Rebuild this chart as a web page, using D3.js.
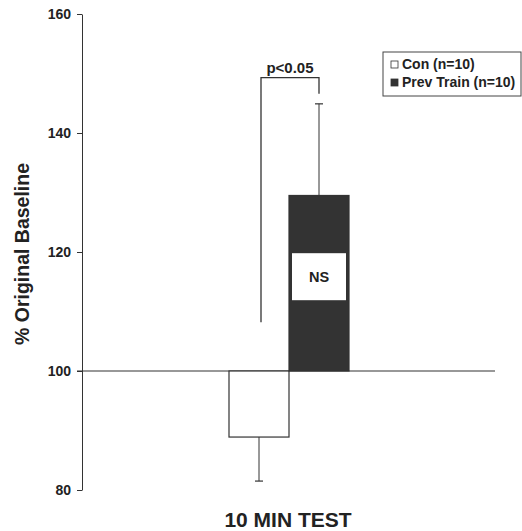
<!DOCTYPE html>
<html>
<head>
<meta charset="utf-8">
<script src="https://cdn.jsdelivr.net/npm/d3@7"></script>
<style>
  body { margin: 0; background: #fff; }
  text { font-family: "Liberation Sans", Arial, sans-serif; font-weight: bold; fill: #222; }
</style>
</head>
<body>
<div id="vis"></div>
<script>
const groups = ["Con (n=10)", "Prev Train (n=10)"];
const means = [88.9, 129.5];
const errors = [7.4, 15.4];
const fills = ["#fff", "#333"];
const yTicks = [80, 100, 120, 140, 160];
const baseline = 100;
// bracket: left arm bottom, right arm bottom, top
const bracket = [108.2, 146.6, 149.3];
const nsBox = [111.9, 119.8];

const width = 522;
const height = 531;
const margin = {left: 82, right: 27, top: 14, bottom: 41};

const svg = d3.select("#vis")
        .append("svg")
        .attr("width", width)
        .attr("height", height);

const yScale = d3.scaleLinear()
        .domain([80, 160])
        .range([height - margin.bottom, margin.top]);

const xScale = d3.scaleBand()
        .domain(groups)
        .range([229, 349])
        .paddingInner(0);

// y axis
const yAxis = d3.axisLeft(yScale)
        .tickValues(yTicks)
        .tickSizeOuter(0)
        .tickSizeInner(5)
        .tickPadding(6);

svg.append("g")
        .attr("transform", "translate(" + margin.left + ",0)")
        .call(yAxis)
        .call(g => g.select(".domain").attr("stroke", "#333"))
        .call(g => g.selectAll(".tick line").attr("stroke", "#333"))
        .call(g => g.selectAll("text").attr("font-size", 14).attr("fill", "#222"));

// baseline
svg.append("line")
        .attr("x1", margin.left - 5)
        .attr("x2", 495)
        .attr("y1", yScale(baseline))
        .attr("y2", yScale(baseline))
        .attr("stroke", "#333")
        .attr("stroke-width", 1.2);

// error bars
groups.forEach((g, i) => {
  let cx = xScale(g) + xScale.bandwidth() / 2;
  let end = means[i] > baseline ? means[i] + errors[i] : means[i] - errors[i];
  svg.append("line")
          .attr("x1", cx).attr("x2", cx)
          .attr("y1", yScale(means[i])).attr("y2", yScale(end))
          .attr("stroke", "#333").attr("stroke-width", 1);
  svg.append("line")
          .attr("x1", cx - 4).attr("x2", cx + 4)
          .attr("y1", yScale(end)).attr("y2", yScale(end))
          .attr("stroke", "#333").attr("stroke-width", 1.2);
});

// bars
svg.selectAll("rect.bar")
        .data(groups)
        .enter()
        .append("rect")
        .attr("class", "bar")
        .attr("x", d => xScale(d))
        .attr("width", xScale.bandwidth())
        .attr("y", (d, i) => yScale(Math.max(means[i], baseline)))
        .attr("height", (d, i) => Math.abs(yScale(means[i]) - yScale(baseline)))
        .attr("fill", (d, i) => fills[i])
        .attr("stroke", "#333")
        .attr("stroke-width", 1.2);

// NS box inside the dark bar
let bx = xScale(groups[1]);
svg.append("rect")
        .attr("x", bx + 3)
        .attr("width", xScale.bandwidth() - 6)
        .attr("y", yScale(nsBox[1]))
        .attr("height", yScale(nsBox[0]) - yScale(nsBox[1]))
        .attr("fill", "#fff");

svg.append("text")
        .attr("x", bx + xScale.bandwidth() / 2)
        .attr("y", (yScale(nsBox[0]) + yScale(nsBox[1])) / 2 + 5)
        .attr("text-anchor", "middle")
        .attr("font-size", 14.5)
        .text("NS");

// significance bracket
let lx = xScale(groups[0]) + xScale.bandwidth() / 2 + 2;
let rx = xScale(groups[1]) + xScale.bandwidth() / 2;
svg.append("path")
        .attr("d", "M " + lx + " " + yScale(bracket[0]) +
                " L " + lx + " " + yScale(bracket[2]) +
                " L " + rx + " " + yScale(bracket[2]) +
                " L " + rx + " " + yScale(bracket[1]))
        .attr("stroke", "#333")
        .attr("stroke-width", 1.3)
        .attr("fill", "none");

svg.append("text")
        .attr("x", (lx + rx) / 2)
        .attr("y", yScale(bracket[2]) - 5)
        .attr("text-anchor", "middle")
        .attr("font-size", 15)
        .text("p<0.05");

// legend
const legend = svg.append("g").attr("transform", "translate(383,52)");
legend.append("rect")
        .attr("width", 138)
        .attr("height", 44)
        .attr("fill", "#fff")
        .attr("stroke", "#444")
        .attr("stroke-width", 1);

groups.forEach((g, i) => {
  legend.append("rect")
          .attr("x", 8)
          .attr("y", 9 + i * 18)
          .attr("width", 7)
          .attr("height", 7)
          .attr("fill", fills[i])
          .attr("stroke", "#333")
          .attr("stroke-width", 0.8);
  legend.append("text")
          .attr("x", 19)
          .attr("y", 17 + i * 18)
          .attr("font-size", 14)
          .text(g);
});

// axis titles
svg.append("text")
        .attr("transform", "translate(29," + (yScale(120) + 2) + ") rotate(-90)")
        .attr("text-anchor", "middle")
        .attr("font-size", 19.5)
        .text("% Original Baseline");

svg.append("text")
        .attr("x", 288)
        .attr("y", 527)
        .attr("text-anchor", "middle")
        .attr("font-size", 21)
        .text("10 MIN TEST");
</script>
</body>
</html>
